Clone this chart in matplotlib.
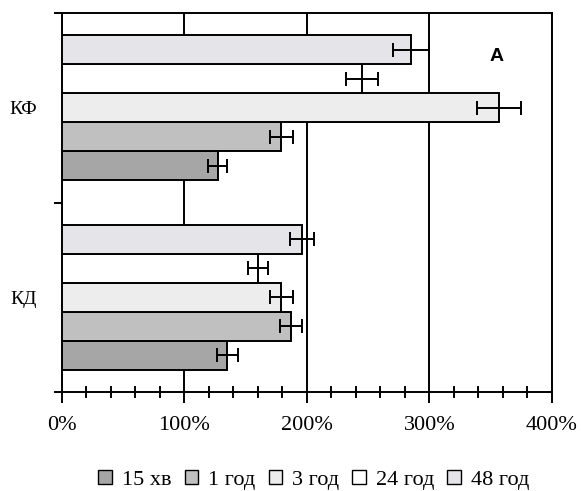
import numpy as np
import matplotlib
matplotlib.use("Agg")
import matplotlib.pyplot as plt
from matplotlib.patches import Patch
from matplotlib.ticker import MultipleLocator

groups = ["КД", "КФ"]
series = ["15 хв", "1 год", "3 год", "24 год", "48 год"]

# percent of control
kd_vals = [135, 187, 179, 160, 196]
kd_err = [8.5, 9, 9.5, 8.5, 10]
kf_vals = [127, 179, 357, 245, 285]
kf_err = [7.5, 9.5, 18, 13, 15]

colors = ["#a6a6a6", "#c0c0c0", "#ededed", "#ffffff", "#e4e4e9"]

plt.rcParams["font.family"] = ["Liberation Serif", "DejaVu Serif"]

fig = plt.figure(figsize=(5.81, 4.91), dpi=100)
ax = fig.add_axes([0.1067, 0.2016, 0.8433, 0.7719])

h = 0.153
lw = 1.4
ypos = np.arange(len(groups))
for i, name in enumerate(series):
    vals = [kd_vals[i], kf_vals[i]]
    errs = [kd_err[i], kf_err[i]]
    ax.barh(ypos + (i - 2) * h, vals, height=h, color=colors[i],
            edgecolor="black", linewidth=lw, xerr=errs, zorder=3,
            error_kw=dict(ecolor="black", elinewidth=lw, capsize=4.7,
                          capthick=lw, zorder=4))

ax.set_xlim(0, 400)
ax.set_ylim(-0.5, 1.5)

ax.xaxis.set_major_locator(MultipleLocator(100))
ax.xaxis.set_minor_locator(MultipleLocator(20))
ax.set_xticklabels([f"{int(v)}%" for v in ax.get_xticks()])
ax.tick_params(axis="x", which="major", direction="out", length=8,
               width=lw, labelsize=16, pad=9)
ax.tick_params(axis="x", which="minor", direction="inout", length=8.6,
               width=lw)
ax.xaxis.grid(True, which="major", color="black", linewidth=lw)
ax.set_axisbelow(True)

ax.set_yticks([-0.5, 0.5, 1.5])
ax.set_yticklabels([])
ax.set_yticks(ypos, minor=True)
ax.set_yticklabels(groups, minor=True)
ax.tick_params(axis="y", which="major", direction="out", length=5.5,
               width=lw)
ax.tick_params(axis="y", which="minor", length=0, labelsize=14, pad=18)

for sp in ax.spines.values():
    sp.set_linewidth(lw)

ax.text(0.886, 0.884, "A", transform=ax.transAxes, ha="center",
        va="center", fontsize=14, fontweight="bold",
        family="Liberation Sans")

handles = [Patch(facecolor=c, edgecolor="black", linewidth=1) for c in colors]
fig.legend(handles, series, loc="center", bbox_to_anchor=(0.54, 0.022),
           ncol=5, frameon=False, fontsize=16, handlelength=0.6,
           handleheight=0.6, handletextpad=0.45, columnspacing=0.6,
           borderpad=0, borderaxespad=0)

fig.savefig("out.png", dpi=100)
